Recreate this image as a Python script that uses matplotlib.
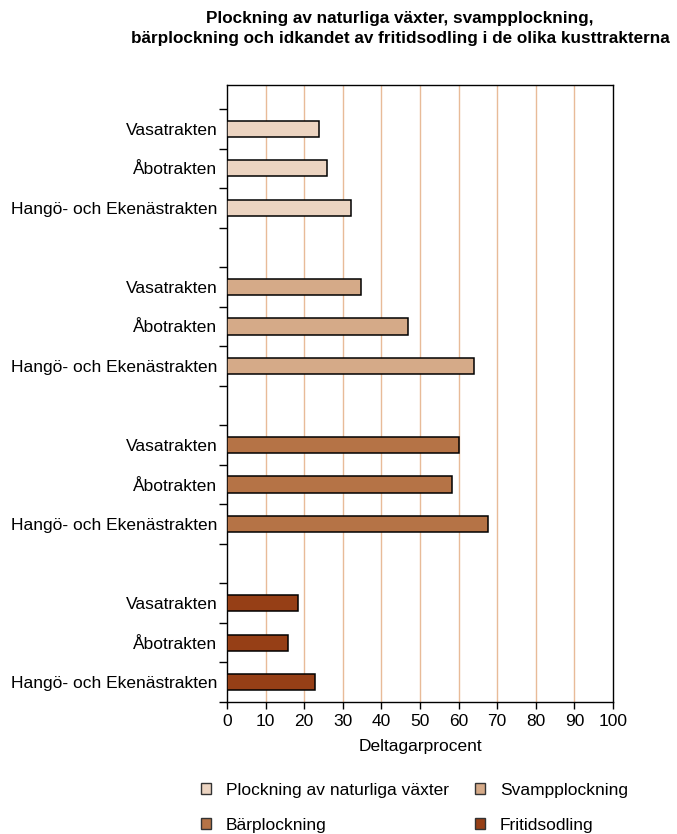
import matplotlib
import matplotlib.pyplot as plt
from matplotlib.patches import Patch

matplotlib.use("Agg")

plt.rcParams['font.family'] = ['Liberation Sans Narrow', 'Liberation Sans', 'DejaVu Sans']

# Data
regions = ["Vasatrakten", "Åbotrakten", "Hangö- och Ekenästrakten"]
activities = ["Plockning av naturliga växter", "Svampplockning", "Bärplockning", "Fritidsodling"]
plockning = [23.8, 26.0, 32.0]
svamp = [34.6, 46.8, 64.1]
bar = [60.2, 58.4, 67.7]
fritid = [18.3, 15.9, 22.7]
colors = ["#ecd4c1", "#d5aa88", "#b57346", "#963f16"]

series = [plockning, svamp, bar, fritid]

fig = plt.figure(figsize=(6.77, 8.34), dpi=100)
ax = fig.add_axes([0.3353, 0.1583, 0.5702, 0.7398])

positions = []
labels = []
for g, (vals, col) in enumerate(zip(series, colors)):
    ys = [g * 4 + i for i in range(len(regions))]
    ax.barh(ys, vals, height=0.41, color=col, edgecolor="black", linewidth=1.1, zorder=3)
    positions.extend(ys)
    labels.extend(regions)

ax.set_xlim(0, 100)
ax.set_ylim(14.5, -1.11)
ax.set_xticks(range(0, 101, 10))
ax.tick_params(axis="x", labelsize=12.5, length=5, width=1, direction="out", pad=4)

# labels at bar centres, tick marks at slot boundaries
ax.set_yticks(positions)
ax.set_yticklabels(labels, fontsize=12.5)
ax.tick_params(axis="y", which="major", length=0, pad=7)
ax.set_yticks([k + 0.5 for k in range(-1, 15)], minor=True)
ax.tick_params(axis="y", which="minor", length=6, width=1)

for x in range(10, 100, 10):
    ax.axvline(x, color="#e8bb98", linewidth=1, zorder=1)

for s in ax.spines.values():
    s.set_linewidth(1)

ax.set_xlabel("Deltagarprocent", fontsize=12.5, labelpad=7)

fig.text(0.591, 0.987, "Plockning av naturliga växter, svampplockning,\n"
         "bärplockning och idkandet av fritidsodling i de olika kusttrakterna",
         ha="center", va="top", fontsize=12.3, fontweight="bold", linespacing=1.45)

order = [0, 2, 1, 3]
handles = [Patch(facecolor=colors[i], edgecolor="#333333", linewidth=1) for i in order]
fig.legend(handles, [activities[i] for i in order], ncol=2, loc="lower center",
           bbox_to_anchor=(0.612, -0.017), frameon=False, fontsize=12.5,
           handlelength=0.6, handleheight=0.6, handletextpad=0.85,
           columnspacing=1.5, labelspacing=1.15)

fig.savefig("out.png", dpi=100)
